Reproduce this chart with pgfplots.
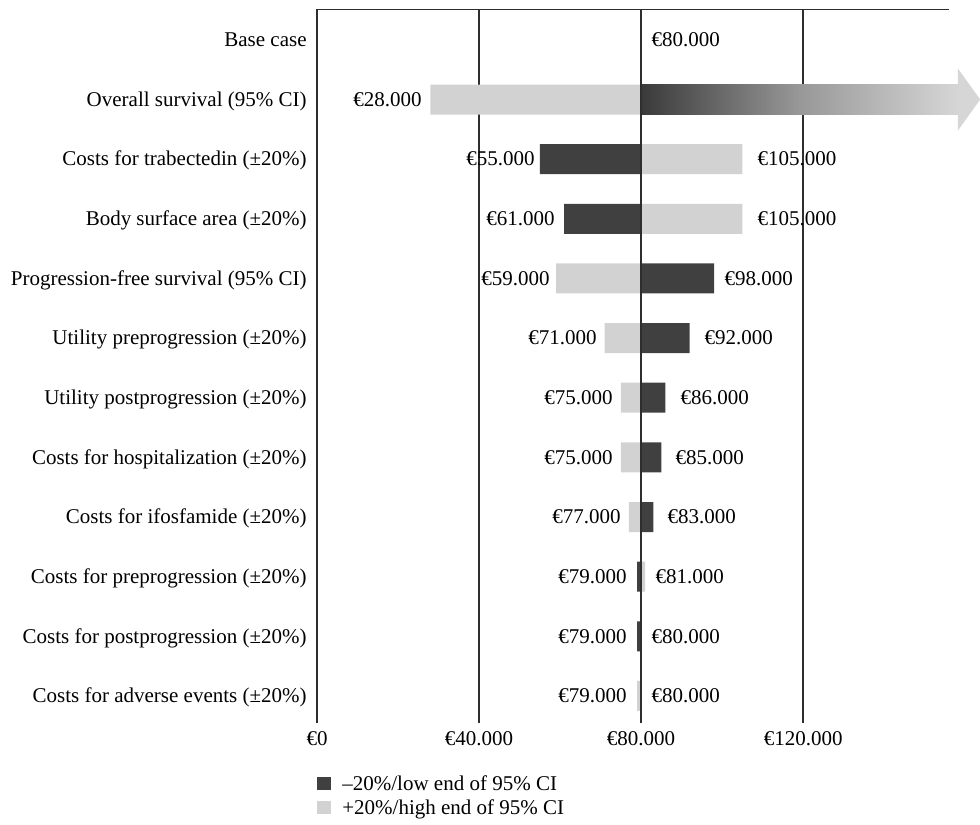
\documentclass[border=0pt]{standalone}
\usepackage{fontspec}
\setmainfont{Liberation Serif}
\usepackage{pgfplots}
\usepackage{pgfplotstable}
\pgfplotsset{compat=1.18}

\definecolor{darkbar}{HTML}{404040}
\definecolor{lightbar}{HTML}{D2D2D2}
\definecolor{axisgray}{HTML}{2E2E2E}
\definecolor{shadeL}{HTML}{3A3A3A}
\definecolor{shadeM}{HTML}{989898}
\definecolor{shadeR}{HTML}{D6D6D6}

% values in thousand euro; row 11 = Base case (top), row 0 = bottom
\pgfplotstableread{
y v
9 55
8 61
7 98
6 92
5 86
4 85
3 83
2 79
1 79
0 80
}\lowtab
\pgfplotstableread{
y v
10 28
9 105
8 105
7 59
6 71
5 75
4 75
3 77
2 81
1 80
0 79
}\hightab

\pgfplotsset{sqlegend/.style={legend image code/.code={\fill[##1] (0pt,-3pt) rectangle (7pt,3.5pt);}}}

\begin{document}
\fontsize{10.5}{12.6}\selectfont
\begin{tikzpicture}
\begin{axis}[
  scale only axis, width=316pt, height=356.75pt,
  xmin=-80, xmax=76, ymin=-0.453, ymax=11.509,
  enlargelimits=false,
  x filter/.expression={x-80},
  xtick={-80,-40,0,40}, xticklabels={€0,€40.000,€80.000,€120.000},
  ytick={0,...,11},
  yticklabels={Costs for adverse events (±20\%),Costs for postprogression (±20\%),Costs for preprogression (±20\%),Costs for ifosfamide (±20\%),Costs for hospitalization (±20\%),Utility postprogression (±20\%),Utility preprogression (±20\%),Progression-free survival (95\% CI),Body surface area (±20\%),Costs for trabectedin (±20\%),Overall survival (95\% CI),Base case},
  major tick length=0pt,
  xmajorgrids, ymajorgrids=false,
  grid style={axisgray, line width=0.75pt},
  axis line style={draw=none},
  clip=false,
  xticklabel style={inner sep=0pt, anchor=north, yshift=-4pt},
  yticklabel style={inner sep=0pt, anchor=base east, xshift=-5pt, yshift=-3.4pt},
  legend cell align=left,
  legend style={draw=none, fill=none, at={(rel axis cs:0,0)}, anchor=north west,
    yshift=-25.5pt, inner sep=0pt, row sep=2pt, nodes={inner sep=0.5pt},
    /tikz/every odd column/.append style={column sep=5pt}},
]
\addplot[xbar, bar width=15pt, bar shift=0pt, fill=darkbar, draw=none, sqlegend] table[x=v, y=y] {\lowtab};
\addlegendentry{–20\%/low end of 95\% CI}
\addplot[xbar, bar width=15pt, bar shift=0pt, fill=lightbar, draw=none, sqlegend] table[x=v, y=y] {\hightab};
\addlegendentry{+20\%/high end of 95\% CI}
% Overall survival low end: beyond the axis, drawn as an arrow
\addplot[xbar, bar width=15pt, bar shift=0pt, draw=none, left color=shadeL, right color=shadeR, middle color=shadeM, forget plot] coordinates {(158.3,10)};
\addplot[fill=shadeR, draw=none, forget plot] coordinates {(158.2,10.52) (163.7,10) (158.2,9.48) (158.2,10.52)};

\draw[axisgray, line width=0.75pt] (axis cs:0,-0.453) -- (axis cs:0,11.509);
\draw[axisgray, line width=0.75pt] (rel axis cs:0,0) -- (rel axis cs:0,1) -- (rel axis cs:1,1);

\tikzset{lab/.style={inner sep=0pt, yshift=-3.4pt}}
% right-hand labels
\node[lab, anchor=base west] at (axis cs:2.47,11) {€80.000};
\node[lab, anchor=base west] at (axis cs:28.64,9) {€105.000};
\node[lab, anchor=base west] at (axis cs:28.64,8) {€105.000};
\node[lab, anchor=base west] at (axis cs:20.49,7) {€98.000};
\node[lab, anchor=base west] at (axis cs:15.56,6) {€92.000};
\node[lab, anchor=base west] at (axis cs:9.63,5) {€86.000};
\node[lab, anchor=base west] at (axis cs:8.40,4) {€85.000};
\node[lab, anchor=base west] at (axis cs:6.42,3) {€83.000};
\node[lab, anchor=base west] at (axis cs:3.46,2) {€81.000};
\node[lab, anchor=base west] at (axis cs:2.47,1) {€80.000};
\node[lab, anchor=base west] at (axis cs:2.47,0) {€80.000};
% left-hand labels
\node[lab, anchor=base east] at (axis cs:-54.07,10) {€28.000};
\node[lab, anchor=base east] at (axis cs:-26.17,9) {€55.000};
\node[lab, anchor=base east] at (axis cs:-21.23,8) {€61.000};
\node[lab, anchor=base east] at (axis cs:-22.47,7) {€59.000};
\node[lab, anchor=base east] at (axis cs:-10.86,6) {€71.000};
\node[lab, anchor=base east] at (axis cs:-6.91,5) {€75.000};
\node[lab, anchor=base east] at (axis cs:-6.91,4) {€75.000};
\node[lab, anchor=base east] at (axis cs:-4.94,3) {€77.000};
\node[lab, anchor=base east] at (axis cs:-3.46,2) {€79.000};
\node[lab, anchor=base east] at (axis cs:-3.46,1) {€79.000};
\node[lab, anchor=base east] at (axis cs:-3.46,0) {€79.000};

\coordinate (bl) at (rel axis cs:0,0);
\coordinate (tr) at (rel axis cs:1,1);
\end{axis}
\pgfresetboundingbox
\path[use as bounding box] ([xshift=-158.5pt, yshift=-50.5pt]bl) rectangle ([xshift=15.5pt, yshift=4.75pt]tr);
\end{tikzpicture}
\end{document}
